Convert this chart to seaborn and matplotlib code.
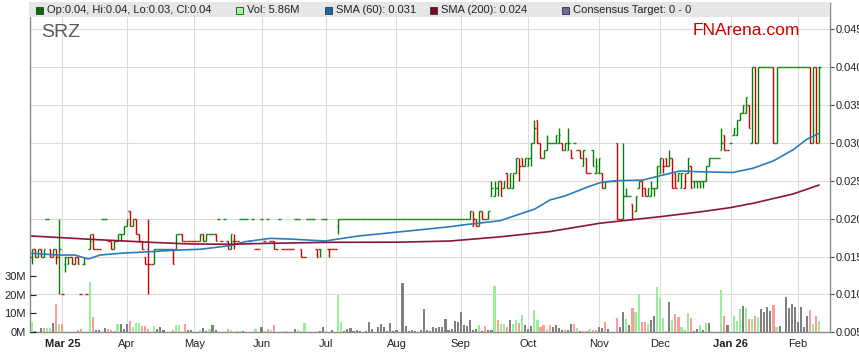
import pandas as pd
import matplotlib
matplotlib.use("Agg")
import matplotlib.pyplot as plt
import seaborn as sns
from matplotlib.collections import LineCollection
from matplotlib.patches import Rectangle

# trading days (weekdays) on the chart
days = pd.bdate_range("2025-02-17", "2026-02-11")

# daily bars, prices in tenths of a cent (0.016 -> 16)
opens = [
    15, 16, 15, 16, 15, 20, 16, 15, 16, 15,
    10, 14, 14, 15, 14, 15, 10, 14, 10, 16,
    18, 16, 16, 20, 20, 17, 17, 16, 17, 18,
    18, 19, 21, 19, 20, 18, 17, 15, 16, 14,
    14, 16, 16, 16, 16, 16, 16, 16, 18, 18,
    17, 17, 17, 17, 17, 17, 18, 17, 18, 18,
    18, 20, 17, 20, 17, 16, 17, 17, 20, 20,
    20, 17, 20, 16, 16, 20, 17, 20, 17, 17,
    16, 20, 16, 16, 16, 16, 20, 20, 16, 15,
    20, 20, 20, 16, 16, 20, 20, 16, 16, 16,
    19, 20, 20, 20, 20, 20, 20, 20, 20, 20,
    20, 20, 20, 20, 20, 20, 20, 20, 20, 20,
    20, 20, 20, 20, 20, 20, 20, 20, 20, 20,
    20, 20, 20, 20, 20, 20, 20, 20, 20, 20,
    20, 20, 20, 20, 19, 20, 19, 21, 20, 20,
    23, 23, 24, 25, 24, 26, 24, 24, 26, 26,
    28, 27, 27, 28, 30, 33, 30, 28, 29, 30,
    30, 30, 30, 30, 29, 29, 29, 30, 29, 29,
    27, 28, 26, 29, 26, 26, 26, 24, 25, 25,
    25, 30, 20, 20, 23, 23, 22, 21, 24, 25,
    24, 23, 23, 24, 24, 26, 27, 28, 27, 28,
    26, 25, 24, 24, 26, 27, 25, 25, 25, 25,
    25, 27, 28, 28, 28, 29, 31, 29, 30, 31,
    31, 33, 34, 34, 35, 30, 40, 30, 40, 40,
    40, 40, 40, 30, 40, 40, 40, 40, 40, 40,
    40, 40, 40, 40, 40, 30, 40, 40,
]
highs = [
    16, 16, 16, 16, 16, 20, 16, 16, 16, 20,
    10, 15, 15, 15, 15, 15, 10, 15, 10, 18,
    18, 16, 16, 20, 20, 17, 17, 17, 18, 18,
    19, 20, 21, 20, 20, 18, 17, 15, 20, 14,
    16, 16, 16, 16, 16, 16, 16, 18, 18, 18,
    17, 17, 17, 17, 17, 18, 18, 18, 18, 18,
    18, 20, 17, 20, 17, 18, 18, 17, 20, 20,
    20, 17, 20, 16, 16, 20, 17, 20, 17, 17,
    16, 20, 16, 16, 16, 16, 20, 20, 16, 15,
    20, 20, 20, 16, 16, 20, 20, 16, 16, 16,
    20, 20, 20, 20, 20, 20, 20, 20, 20, 20,
    20, 20, 20, 20, 20, 20, 20, 20, 20, 20,
    20, 20, 20, 20, 20, 20, 20, 20, 20, 20,
    20, 20, 20, 20, 20, 20, 20, 20, 20, 20,
    20, 20, 20, 21, 21, 20, 21, 21, 20, 21,
    25, 25, 25, 25, 25, 26, 26, 26, 28, 28,
    28, 28, 28, 30, 33, 33, 30, 29, 31, 30,
    30, 31, 32, 30, 30, 32, 29, 30, 29, 29,
    29, 28, 26, 29, 28, 28, 26, 25, 25, 25,
    25, 30, 20, 30, 24, 23, 22, 23, 25, 25,
    24, 24, 25, 24, 27, 28, 28, 28, 29, 28,
    26, 26, 26, 26, 28, 27, 25, 25, 25, 25,
    27, 28, 28, 28, 28, 32, 31, 29, 30, 32,
    33, 34, 35, 36, 35, 40, 40, 40, 40, 40,
    40, 40, 40, 40, 40, 40, 40, 40, 40, 40,
    40, 40, 40, 40, 40, 40, 40, 40,
]
lows = [
    14, 15, 15, 15, 15, 20, 15, 15, 14, 10,
    10, 13, 14, 14, 14, 14, 10, 14, 10, 16,
    16, 16, 16, 20, 20, 17, 16, 16, 17, 17,
    18, 19, 19, 19, 18, 17, 16, 14, 10, 14,
    14, 16, 16, 16, 16, 16, 14, 16, 18, 17,
    17, 17, 17, 17, 17, 17, 17, 17, 18, 18,
    17, 20, 17, 20, 16, 16, 16, 17, 20, 20,
    20, 17, 20, 16, 16, 20, 17, 20, 17, 16,
    16, 20, 16, 16, 16, 16, 20, 20, 15, 15,
    20, 20, 20, 15, 15, 20, 20, 15, 16, 16,
    18, 20, 20, 20, 20, 20, 20, 20, 20, 20,
    20, 20, 20, 20, 20, 20, 20, 20, 20, 20,
    20, 20, 20, 20, 20, 20, 20, 20, 20, 20,
    20, 20, 20, 20, 20, 20, 20, 20, 20, 20,
    20, 20, 20, 20, 19, 19, 19, 20, 20, 20,
    23, 23, 23, 23, 24, 24, 24, 24, 26, 25,
    27, 27, 27, 27, 30, 30, 28, 28, 29, 30,
    30, 30, 30, 29, 29, 29, 28, 30, 29, 28,
    27, 26, 26, 27, 26, 26, 24, 24, 25, 25,
    25, 20, 20, 20, 23, 23, 20, 21, 24, 23,
    23, 23, 23, 23, 24, 26, 26, 27, 27, 24,
    24, 25, 24, 24, 26, 24, 24, 24, 24, 24,
    25, 27, 28, 28, 28, 29, 29, 29, 30, 31,
    31, 33, 34, 34, 32, 30, 30, 30, 40, 40,
    40, 40, 30, 30, 40, 40, 40, 40, 40, 40,
    40, 40, 40, 40, 30, 30, 30, 30,
]
closes = [
    16, 15, 16, 15, 16, 20, 15, 16, 15, 16,
    10, 15, 15, 14, 15, 14, 10, 14, 10, 17,
    16, 16, 16, 20, 20, 17, 16, 17, 18, 18,
    19, 20, 19, 20, 18, 17, 16, 14, 14, 14,
    16, 16, 16, 16, 16, 16, 14, 18, 18, 17,
    17, 17, 17, 17, 17, 18, 17, 18, 18, 18,
    17, 20, 17, 20, 16, 18, 17, 17, 20, 20,
    20, 17, 20, 16, 16, 20, 17, 20, 17, 16,
    16, 20, 16, 16, 16, 16, 20, 20, 15, 15,
    20, 20, 20, 15, 16, 20, 20, 16, 16, 16,
    20, 20, 20, 20, 20, 20, 20, 20, 20, 20,
    20, 20, 20, 20, 20, 20, 20, 20, 20, 20,
    20, 20, 20, 20, 20, 20, 20, 20, 20, 20,
    20, 20, 20, 20, 20, 20, 20, 20, 20, 20,
    20, 20, 20, 21, 20, 19, 21, 20, 20, 21,
    24, 24, 25, 23, 25, 24, 26, 26, 28, 27,
    27, 28, 28, 30, 32, 30, 28, 29, 30, 30,
    30, 31, 31, 29, 30, 30, 28, 30, 29, 28,
    29, 26, 26, 27, 27, 28, 24, 25, 25, 25,
    25, 20, 20, 23, 23, 23, 20, 23, 25, 23,
    23, 24, 24, 24, 27, 28, 27, 27, 28, 24,
    24, 26, 26, 25, 28, 24, 25, 25, 25, 25,
    27, 28, 28, 28, 28, 30, 29, 29, 30, 32,
    33, 34, 35, 36, 32, 40, 30, 40, 40, 40,
    40, 40, 30, 40, 40, 40, 40, 40, 40, 40,
    40, 40, 40, 40, 30, 40, 30, 40,
]

# volume in millions, split by bar colour
up_day = [0, 5, 6, 9, 19, 28, 33, 34, 35, 40, 47, 48, 55, 58, 65, 68, 73, 76, 78, 82,
          87, 89, 96, 100, 101, 146, 151, 153, 154, 157, 158, 160, 164, 165, 168, 178,
          182, 194, 197, 198, 201, 204, 205, 206, 209, 212, 213, 214, 218, 220, 222,
          225, 229, 230, 231, 233, 235, 237, 243, 255, 257]
up_vol = [5.5, 2.3, 2.3, 4.4, 26.8, 4.4, 2.8, 4.8, 4.8, 3.2, 3.9, 3.9, 1.2, 2.0, 1.2, 0.5,
          1.8, 0.9, 1.2, 0.7, 1.2, 4.8, 0.5, 19.9, 5.5, 3.7, 24.6, 4.3, 4.3, 4.3, 6.6,
          9.2, 11.9, 6.6, 1.8, 2.3, 1.8, 6.9, 10.8, 20.4, 4.4, 24.1, 18.1, 7.6, 6.6, 2.8,
          1.2, 10.5, 3.9, 5.0, 0.5, 22.7, 8.7, 6.2, 12.4, 12.9, 7.1, 8.0, 2.8, 4.4, 5.86]
down_day = [4, 8, 10, 15, 16, 20, 25, 26, 27, 32, 36, 37, 38, 46, 50, 64, 67, 77, 79, 83,
            88, 148, 152, 155, 159, 166, 167, 169, 174, 177, 180, 181, 183, 184, 187,
            191, 196, 199, 200, 207, 210, 211, 215, 226, 234, 236, 242, 254, 256]
down_vol = [2.3, 15.0, 4.4, 1.2, 1.8, 8.0, 1.6, 1.2, 0.7, 6.0, 3.4, 3.5, 2.0, 1.2, 4.4,
            1.8, 0.7, 1.8, 3.9, 0.7, 0.7, 3.2, 6.6, 2.8, 5.0, 2.8, 3.9, 4.1, 1.2, 4.4,
            0.7, 0.7, 1.2, 1.2, 5.3, 7.6, 12.9, 5.5, 5.5, 0.7, 9.8, 8.2, 7.6, 8.7, 7.1,
            8.7, 14.5, 11.9, 8.7]
flat_day = [1, 3, 7, 21, 22, 24, 29, 30, 31, 41, 42, 43, 51, 52, 56, 57, 59, 60, 69, 75,
            86, 94, 95, 98, 102, 103, 104, 105, 106, 107, 109, 110, 111, 113, 114, 115,
            116, 117, 118, 119, 121, 122, 123, 124, 125, 127, 128, 129, 130, 131, 132,
            133, 134, 135, 136, 137, 138, 139, 140, 141, 142, 143, 144, 145, 147, 149,
            150, 156, 161, 162, 163, 170, 171, 172, 173, 175, 176, 179, 185, 186, 188,
            192, 193, 195, 202, 203, 208, 216, 217, 219, 221, 227, 232, 238, 239, 240,
            241, 244, 246, 247, 248, 249, 250, 251, 252, 253]
flat_vol = [0.7, 2.3, 4.8, 1.2, 1.2, 2.3, 4.4, 1.8, 4.4, 1.6, 2.8, 1.2, 1.2, 1.2, 2.5, 0.7,
            3.9, 1.2, 0.7, 2.8, 1.6, 0.7, 2.7, 1.2, 0.9, 1.8, 2.1, 0.7, 1.2, 0.9, 0.7,
            5.5, 1.8, 2.7, 4.4, 2.7, 0.9, 4.8, 0.9, 1.2, 26.2, 3.4, 0.7, 1.2, 0.7, 1.2,
            12.4, 1.2, 0.9, 2.8, 2.1, 2.8, 2.8, 7.1, 1.2, 1.8, 6.0, 5.5, 10.8, 3.7, 3.4,
            6.7, 1.2, 1.8, 0.7, 1.2, 1.2, 6.6, 3.9, 1.8, 3.2, 2.8, 3.9, 2.5, 1.2, 1.2,
            4.4, 0.9, 2.7, 2.3, 1.8, 2.8, 10.6, 3.7, 6.6, 8.7, 16.1, 0.7, 1.8, 1.2, 5.0,
            3.9, 14.0, 12.4, 10.8, 13.5, 11.3, 3.4, 18.8, 12.9, 15.1, 13.5, 5.5, 13.5,
            2.8, 8.7]

# moving averages (day index, price)
sma60_day = [0, 8.6, 14.1, 18.4, 22.3, 28.8, 38.6, 48.4, 54.9, 64.7, 69.6, 77.8, 84.9,
             95.7, 106.5, 122.8, 136.5, 140.7, 152.8, 164.2, 169.1, 174, 181.5, 185.4,
             190.3, 199.4, 205, 211.5, 217.1, 228.8, 235.3, 241.9, 248.4, 252.9, 256.9]
sma60 = [0.01543, 0.0152, 0.0152, 0.01468, 0.0152, 0.01543, 0.01564, 0.01587, 0.01596,
         0.01643, 0.01696, 0.0174, 0.0173, 0.01705, 0.01771, 0.01837, 0.01894, 0.01917,
         0.01973, 0.02128, 0.02247, 0.023, 0.0242, 0.02475, 0.025, 0.0251, 0.02567,
         0.0263, 0.0262, 0.0261, 0.02665, 0.02761, 0.0291, 0.03048, 0.03127]
sma200_day = [0, 19, 38.6, 51.6, 64.7, 77.8, 97.3, 120.2, 136.5, 152.8, 169.1, 185.4,
              205, 218.1, 227.8, 235.3, 248.4, 256.9]
sma200 = [0.01771, 0.01728, 0.01688, 0.01666, 0.01662, 0.01675, 0.01688, 0.0169, 0.01705,
          0.0176, 0.0183, 0.0194, 0.02026, 0.0209, 0.02145, 0.02203, 0.02326, 0.02444]

month_labels = ["Mar 25", "Apr", "May", "Jun", "Jul", "Aug", "Sep", "Oct", "Nov", "Dec",
                "Jan 26", "Feb"]
price_ticks = [0.005, 0.010, 0.015, 0.020, 0.025, 0.030, 0.035, 0.040, 0.045]
vol_ticks = [0, 10, 20, 30]

legend_items = [
    ("Op:0.04, Hi:0.04, Lo:0.03, Cl:0.04", "#006f00"),
    ("Vol: 5.86M", "#99ff99"),
    ("SMA (60): 0.031", "#1f68a8"),
    ("SMA (200): 0.024", "#7a0c2a"),
    ("Consensus Target: 0 - 0", "#6a6a9a"),
]

UP, DOWN = "#008000", "#d00000"

sns.set_theme(style="white")
plt.rcParams["font.family"] = ["Liberation Sans", "DejaVu Sans"]

W, H = 859, 363
L, R, T, B = 30, 830, 2.7, 332.3
fig = plt.figure(figsize=(W / 100, H / 100), dpi=100)
pax = fig.add_axes([L / W, 1 - B / H, (R - L) / W, (B - T) / H])
vax = pax.twinx()

# ohlc bars: stem low-high, open tick left, close tick right
segs, cols = [], []
col = UP
prev = closes[0]
for i in range(len(days)):
    o, h, l, c = opens[i] / 1000, highs[i] / 1000, lows[i] / 1000, closes[i] / 1000
    if closes[i] > prev:
        col = UP
    elif closes[i] < prev:
        col = DOWN
    prev = closes[i]
    if h > l:
        segs.append([(i, l), (i, h)])
        cols.append(col)
    segs.append([(i - 0.5, o), (i, o)])
    segs.append([(i, c), (i + 0.5, c)])
    cols += [col, col]
pax.add_collection(LineCollection(segs, colors=cols, linewidths=1.0,
                                  capstyle="butt", zorder=3))

sns.lineplot(x=sma60_day, y=sma60, ax=pax, color="#2b7cbf", lw=1.2, zorder=4)
sns.lineplot(x=sma200_day, y=sma200, ax=pax, color="#8a1538", lw=1.2, zorder=4)

pax.set_xlim(-0.55, 260.45)
pax.set_ylim(0.005, 0.04851)
pax.set_axisbelow(True)
pax.grid(True, color="#dcdcdc", lw=0.8)

month = pd.Series(days.month)
month_pos = list(month.index[month.ne(month.shift())][1:])
pax.set_xticks(month_pos)
pax.set_xticklabels(month_labels)
for t in pax.get_xticklabels():
    t.set_fontweight("bold" if " " in t.get_text() else "normal")
pax.tick_params(axis="x", length=0, pad=5, labelsize=8, labelcolor="#222222")

pax.yaxis.tick_right()
pax.set_yticks(price_ticks)
pax.set_yticklabels([f"{v:.3f}" for v in price_ticks])
pax.tick_params(axis="y", right=True, left=False, labelright=True, labelleft=False,
                length=3, width=0.8, color="#444444", pad=1, labelsize=8,
                labelcolor="#222222")
pax.set_xlabel("")
pax.set_ylabel("")
for s in pax.spines.values():
    s.set_color("#8a8a8a")
    s.set_linewidth(1.0)

# volume on the left scale
vax.bar(up_day, up_vol, width=0.7, color="#99ee99", lw=0)
vax.bar(down_day, down_vol, width=0.7, color="#ff9a9a", lw=0)
vax.bar(flat_day, flat_vol, width=0.7, color="#808080", lw=0)
vax.set_ylim(0, 175.3)
vax.yaxis.tick_left()
vax.set_yticks(vol_ticks)
vax.set_yticklabels([f"{v}M" for v in vol_ticks])
vax.tick_params(axis="y", left=True, right=False, labelleft=True, labelright=False,
                direction="in", length=4, width=0.8, color="#222222", pad=3,
                labelsize=8, labelcolor="#222222")
vax.grid(False)
for s in vax.spines.values():
    s.set_visible(False)

# legend strip along the top
band_y = (B - 16.7) / (B - T)
vax.add_patch(Rectangle((0, band_y), 1, 1 - band_y, transform=vax.transAxes,
                        facecolor="#e6e6e6", edgecolor="none", zorder=10, clip_on=False))
sq_x = [36, 236, 325, 430, 562]
for (label, c), x0 in zip(legend_items, sq_x):
    fig.add_artist(Rectangle((x0 / W, 1 - 13.7 / H), 7 / W, 7 / H, transform=fig.transFigure,
                             facecolor=c, edgecolor="#333333", lw=0.6))
    fig.text((x0 + 11) / W, 1 - 10.4 / H, label, fontsize=8, color="#222222", va="center")

fig.text(41 / W, 1 - 32.5 / H, "SRZ", fontsize=14, color="#5a5a5a", va="center")
fig.text(693 / W, 1 - 30.5 / H, "FNArena.com", fontsize=12.5, color="#cc0000", va="center")

fig.savefig("out.png", dpi=100)
